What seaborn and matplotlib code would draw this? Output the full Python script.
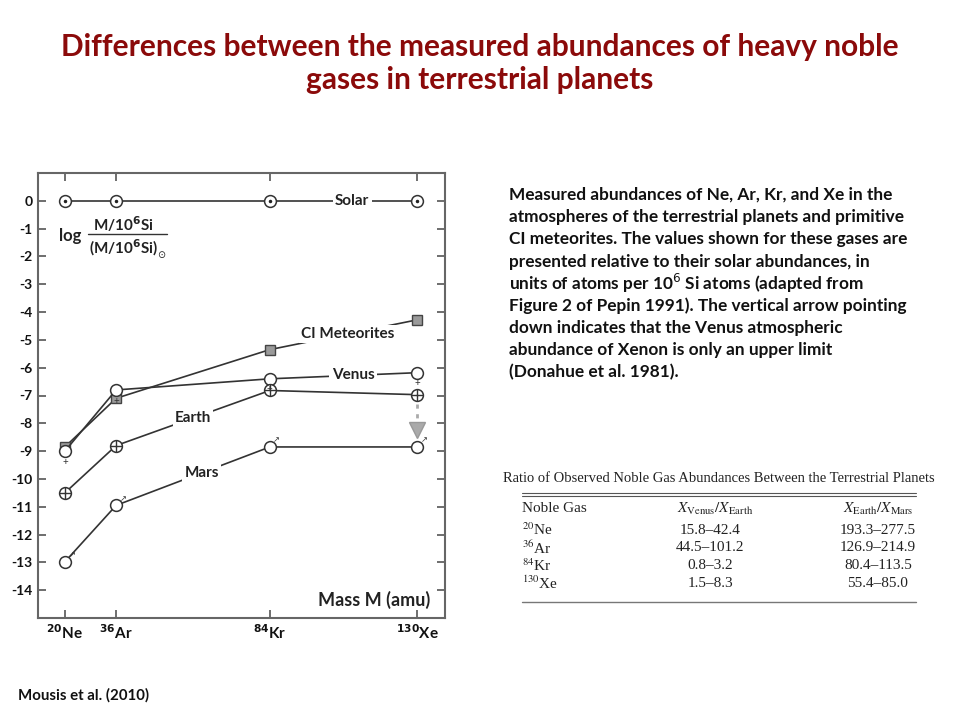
import numpy as np
import pandas as pd
import seaborn as sns
import matplotlib
matplotlib.use("Agg")
import matplotlib.pyplot as plt

# data (log abundance relative to solar, per 10^6 Si)
mass = [20, 36, 84, 130]
gas_labels = [r"$^{\mathbf{20}}$Ne", r"$^{\mathbf{36}}$Ar", r"$^{\mathbf{84}}$Kr", r"$^{\mathbf{130}}$Xe"]
solar = [0, 0, 0, 0]
ci_meteorites = [-8.85, -7.1, -5.35, -4.28]
venus = [-9.0, -6.8, -6.4, -6.18]
earth = [-10.5, -8.8, -6.82, -6.97]
mars = [-12.98, -10.95, -8.85, -8.85]
yticks = list(range(0, -15, -1))

# label positions along each curve (mass coordinate)
label_names = ["Solar", "CI Meteorites", "Venus", "Earth", "Mars"]
label_mass = [109.7, 108.4, 110, 60, 62.8]

# table
table_title = "Ratio of Observed Noble Gas Abundances Between the Terrestrial Planets"
table_gas = [r"$^{20}$Ne", r"$^{36}$Ar", r"$^{84}$Kr", r"$^{130}$Xe"]
venus_earth = ["15.8–42.4", "44.5–101.2", "0.8–3.2", "1.5–8.3"]
earth_mars = ["193.3–277.5", "126.9–214.9", "80.4–113.5", "55.4–85.0"]

caption = [
    "Measured abundances of Ne, Ar, Kr, and Xe in the",
    "atmospheres of the terrestrial planets and primitive",
    "CI meteorites. The values shown for these gases are",
    "presented relative to their solar abundances, in",
    r"units of atoms per 10$^{6}$ Si atoms (adapted from",
    "Figure 2 of Pepin 1991). The vertical arrow pointing",
    "down indicates that the Venus atmospheric",
    "abundance of Xenon is only an upper limit",
    "(Donahue et al. 1981).",
]

sns.set_theme(style="white")
plt.rcParams["font.family"] = ["Lato", "DejaVu Sans"]
plt.rcParams["axes.unicode_minus"] = False

W, H = 960, 720
fig = plt.figure(figsize=(W / 100, H / 100), dpi=100)


def px(x, y):
    return x / W, 1 - y / H


ax = fig.add_axes([38 / W, 1 - 618 / H, (445 - 38) / W, (618 - 173) / H])

line_col = "#333333"
df = pd.DataFrame({
    "mass": mass * 5,
    "value": solar + ci_meteorites + venus + earth + mars,
    "series": sum([[n] * 4 for n in label_names], []),
})

ms = 8.5
for name in label_names:
    sub = df[df["series"] == name]
    if name == "CI Meteorites":
        sns.lineplot(data=sub, x="mass", y="value", ax=ax, color=line_col, lw=1.2,
                     marker="s", markersize=7.5, markerfacecolor="#9a9a9a",
                     markeredgecolor="#444444", markeredgewidth=1, zorder=3)
    else:
        sns.lineplot(data=sub, x="mass", y="value", ax=ax, color=line_col, lw=1.2,
                     marker="o", markersize=ms, markerfacecolor="white",
                     markeredgecolor="#333333", markeredgewidth=1.1, zorder=4)

# planet / sun symbols on the markers
ax.plot(mass, solar, ls="none", marker=".", markersize=3, color="#222222", zorder=5)
ax.plot(mass, earth, ls="none", marker="+", markersize=ms, markeredgewidth=1.0,
        color="#333333", zorder=5)
for m, v in zip(mass, venus):
    ax.annotate("+", xy=(m, v), xytext=(0, -8), textcoords="offset points",
                ha="center", va="center", fontsize=7, color="#333333", zorder=5)
for m, v in zip(mass, mars):
    ax.annotate("↗", xy=(m, v), xytext=(5, 5), textcoords="offset points",
                ha="center", va="center", fontsize=6, color="#333333",
                family="DejaVu Sans", zorder=5)

# curve labels sitting on the lines
series_vals = [solar, ci_meteorites, venus, earth, mars]
for name, lm, vals in zip(label_names, label_mass, series_vals):
    ax.text(lm, np.interp(lm, mass, vals), name, ha="center", va="center",
            fontsize=11, fontweight="bold", color="#222222", zorder=6,
            bbox=dict(boxstyle="square,pad=0.15", fc="white", ec="none"))

# upper-limit arrow for Venus Xe
ax.plot([130, 130], [-7.3, -8.0], ls=(0, (1.5, 2)), lw=2, color="#aaaaaa", zorder=2)
ax.plot([130], [-8.25], marker="v", markersize=11, color="#aaaaaa",
        markeredgecolor="#999999", ls="none", zorder=2)

# y-axis quantity written inside the plot
ax.text(21.6, -1.26, "log", fontsize=12, fontweight="bold", ha="center", va="center",
        color="#222222")
ax.text(38.2, -0.83, r"M/10$^{\mathbf{6}}$Si", fontsize=11, fontweight="bold",
        ha="center", va="center", color="#222222")
ax.plot([27.2, 51.9], [-1.18, -1.18], color="#333333", lw=1)
ax.text(38.2, -1.69, r"(M/10$^{\mathbf{6}}$Si)", fontsize=11, fontweight="bold",
        ha="center", va="center", color="#222222")
ax.text(50.2, -1.95, "⊙", fontsize=7, ha="center", va="center",
        family="DejaVu Sans", color="#222222")

ax.text(134, -14.36, "Mass M (amu)", fontsize=13, fontweight="bold",
        ha="right", va="center", color="#222222")

ax.set_xlim(11.6, 138.7)
ax.set_ylim(-15, 1)
ax.set_xticks(mass)
ax.set_xticklabels(gas_labels, fontsize=11, fontweight="bold")
ax.set_yticks(yticks)
ax.set_yticklabels([str(t) for t in yticks], fontsize=10, fontweight="bold")
ax.set_xlabel("")
ax.set_ylabel("")
ax.tick_params(axis="both", direction="in", length=6, width=1.2, color="#555555",
               top=True, right=True, bottom=True, left=True, pad=4,
               labelcolor="#111111")
for s in ax.spines.values():
    s.set_color("#666666")
    s.set_linewidth(1.5)

# slide title
title_col = "#8b0a0a"
fig.text(*px(480, 47), "Differences between the measured abundances of heavy noble",
         ha="center", va="center", fontsize=21.5, fontweight="bold", color=title_col)
fig.text(*px(480, 80), "gases in terrestrial planets",
         ha="center", va="center", fontsize=21.5, fontweight="bold", color=title_col)

# caption on the right
for i, line in enumerate(caption):
    fig.text(*px(509, 195 + i * 22.2), line, ha="left", va="center",
             fontsize=12.4, fontweight="bold", color="#111111")

# table
serif = ["Liberation Serif", "DejaVu Serif"]
tcol = "#222222"
fig.text(*px(719, 478), table_title, ha="center", va="center", fontsize=10.5,
         family=serif, color=tcol)
for yy in (492.5, 495.5):
    fig.add_artist(plt.Line2D([522 / W, 916 / W], [1 - yy / H, 1 - yy / H],
                              color="#555555", lw=0.8))
fig.add_artist(plt.Line2D([522 / W, 916 / W], [1 - 602 / H, 1 - 602 / H],
                          color="#777777", lw=1.0))
fig.text(*px(522, 509), "Noble Gas", ha="left", va="center", fontsize=11,
         family=serif, color=tcol)
fig.text(*px(715, 509), r"$X_{\rm Venus}/X_{\rm Earth}$", ha="center", va="center",
         fontsize=11, family=serif, math_fontfamily="stix", color=tcol)
fig.text(*px(878, 509), r"$X_{\rm Earth}/X_{\rm Mars}$", ha="center", va="center",
         fontsize=11, family=serif, math_fontfamily="stix", color=tcol)
for i, (g, a, b) in enumerate(zip(table_gas, venus_earth, earth_mars)):
    y = 530 + i * 17.7
    fig.text(*px(522, y), g, ha="left", va="center", fontsize=11, family=serif,
             math_fontfamily="stix", color=tcol)
    fig.text(*px(710, y), a, ha="center", va="center", fontsize=11, family=serif,
             color=tcol)
    fig.text(*px(878, y), b, ha="center", va="center", fontsize=11, family=serif,
             color=tcol)

fig.text(*px(18, 695), "Mousis et al. (2010)", ha="left", va="center", fontsize=10.8,
         fontweight="bold", color="#111111")

fig.savefig("out.png", dpi=100, facecolor="white")
